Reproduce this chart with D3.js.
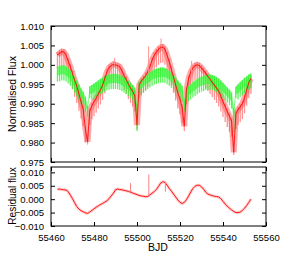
<!DOCTYPE html>
<html>
<head>
<meta charset="utf-8">
<script src="https://cdn.jsdelivr.net/npm/d3@7"></script>
<style>
  body { margin: 0; background: #fff; }
  text { font-family: "Liberation Sans", Arial, sans-serif; }
</style>
</head>
<body>
<div id="chart"></div>
<script>
// sampling times (BJD - 2400000)
var bjd = [
  55463, 55464, 55465, 55466, 55467, 55468, 55469, 55470, 55471, 55472,
  55473, 55474, 55475, 55476, 55477, 55478, 55479, 55480, 55481, 55482,
  55483, 55484, 55485, 55486, 55487, 55488, 55489, 55490, 55491, 55492,
  55493, 55494, 55495, 55496, 55497, 55498, 55499, 55500, 55501, 55502,
  55503, 55504, 55505, 55506, 55507, 55508, 55509, 55510, 55511, 55512,
  55513, 55514, 55515, 55516, 55517, 55518, 55519, 55520, 55521, 55522,
  55523, 55524, 55525, 55526, 55527, 55528, 55529, 55530, 55531, 55532,
  55533, 55534, 55535, 55536, 55537, 55538, 55539, 55540, 55541, 55542,
  55543, 55544, 55545, 55546, 55547, 55548, 55549, 55550, 55551, 55552,
  55553
];

// observed flux (red): central trace and low edge of the scatter
var fluxMid = [
  1.0025, 1.0030, 1.0034, 1.0033, 1.0025, 1.0010, 0.9995, 0.9978, 0.9960, 0.9945,
  0.9925, 0.9905, 0.9885, 0.9835, 0.9802, 0.9880, 0.9895, 0.9905, 0.9914, 0.9925,
  0.9935, 0.9948, 0.9965, 0.9982, 0.9993, 0.9998, 1.0001, 1.0000, 0.9998, 0.9995,
  0.9985, 0.9972, 0.9962, 0.9950, 0.9940, 0.9932, 0.9920, 0.9845, 0.9948, 0.9958,
  0.9965, 0.9972, 0.9982, 0.9995, 1.0012, 1.0025, 1.0033, 1.0040, 1.0045, 1.0046,
  1.0040, 1.0025, 1.0008, 0.9988, 0.9968, 0.9948, 0.9928, 0.9912, 0.9890, 0.9842,
  0.9935, 0.9965, 0.9982, 0.9992, 0.9998, 1.0000, 0.9998, 0.9992, 0.9985, 0.9978,
  0.9970, 0.9963, 0.9955, 0.9948, 0.9940, 0.9932, 0.9920, 0.9905, 0.9893, 0.9880,
  0.9868, 0.9855, 0.9775, 0.9875, 0.9885, 0.9892, 0.9900, 0.9915, 0.9935, 0.9955,
  0.9965
];
var fluxLo = [
  0.9990, 0.9994, 0.9998, 0.9997, 0.9988, 0.9972, 0.9955, 0.9937, 0.9918, 0.9902,
  0.9882, 0.9862, 0.9842, 0.9800, 0.9795, 0.9845, 0.9860, 0.9868, 0.9877, 0.9888,
  0.9898, 0.9910, 0.9927, 0.9944, 0.9956, 0.9962, 0.9965, 0.9964, 0.9962, 0.9958,
  0.9948, 0.9935, 0.9925, 0.9912, 0.9902, 0.9893, 0.9880, 0.9835, 0.9915, 0.9922,
  0.9928, 0.9935, 0.9944, 0.9956, 0.9972, 0.9985, 0.9993, 1.0000, 1.0005, 1.0006,
  1.0000, 0.9985, 0.9968, 0.9948, 0.9928, 0.9908, 0.9888, 0.9872, 0.9850, 0.9830,
  0.9898, 0.9928, 0.9945, 0.9955, 0.9960, 0.9962, 0.9960, 0.9954, 0.9947, 0.9940,
  0.9932, 0.9925, 0.9917, 0.9910, 0.9902, 0.9893, 0.9880, 0.9866, 0.9853, 0.9840,
  0.9828, 0.9815, 0.9768, 0.9835, 0.9845, 0.9852, 0.9860, 0.9875, 0.9895, 0.9915,
  0.9925
];

// model flux (green): upper envelope and tips of the oscillation
var modelTop = [
  0.9995, 0.9997, 0.9999, 0.9999, 0.9996, 0.9991, 0.9985, 0.9977, 0.9969, 0.9960,
  0.9950, 0.9940, 0.9931, 0.9918, 0.9895, 0.9944, 0.9948, 0.9952, 0.9956, 0.9960,
  0.9964, 0.9967, 0.9970, 0.9973, 0.9975, 0.9976, 0.9977, 0.9977, 0.9976, 0.9974,
  0.9971, 0.9968, 0.9964, 0.9959, 0.9954, 0.9948, 0.9942, 0.9900, 0.9957, 0.9962,
  0.9967, 0.9972, 0.9977, 0.9981, 0.9985, 0.9988, 0.9990, 0.9992, 0.9993, 0.9993,
  0.9992, 0.9989, 0.9985, 0.9980, 0.9974, 0.9967, 0.9960, 0.9953, 0.9946, 0.9910,
  0.9940, 0.9945, 0.9950, 0.9955, 0.9959, 0.9963, 0.9967, 0.9970, 0.9972, 0.9974,
  0.9975, 0.9975, 0.9974, 0.9972, 0.9969, 0.9965, 0.9960, 0.9954, 0.9948, 0.9942,
  0.9936, 0.9929, 0.9890, 0.9944, 0.9950, 0.9956, 0.9961, 0.9966, 0.9971, 0.9975,
  0.9978
];
var modelLow = [
  0.9957, 0.9958, 0.9960, 0.9960, 0.9957, 0.9952, 0.9946, 0.9938, 0.9929, 0.9920,
  0.9910, 0.9900, 0.9890, 0.9878, 0.9866, 0.9915, 0.9910, 0.9913, 0.9917, 0.9921,
  0.9925, 0.9928, 0.9931, 0.9934, 0.9936, 0.9937, 0.9938, 0.9938, 0.9937, 0.9935,
  0.9932, 0.9929, 0.9925, 0.9920, 0.9915, 0.9909, 0.9900, 0.9830, 0.9925, 0.9923,
  0.9928, 0.9933, 0.9938, 0.9942, 0.9946, 0.9949, 0.9951, 0.9953, 0.9954, 0.9954,
  0.9953, 0.9950, 0.9946, 0.9941, 0.9935, 0.9928, 0.9921, 0.9914, 0.9905, 0.9880,
  0.9910, 0.9906, 0.9911, 0.9916, 0.9920, 0.9924, 0.9928, 0.9931, 0.9933, 0.9935,
  0.9936, 0.9936, 0.9935, 0.9933, 0.9930, 0.9926, 0.9921, 0.9915, 0.9909, 0.9903,
  0.9896, 0.9888, 0.9826, 0.9915, 0.9911, 0.9917, 0.9922, 0.9927, 0.9932, 0.9936,
  0.9939
];

// residuals (observed - model)
var resid = [
  0.0037, 0.0038, 0.0036, 0.0035, 0.0034, 0.0028, 0.0015, 0.0002, -0.0013, -0.0028,
  -0.0037, -0.0043, -0.0047, -0.0051, -0.0053, -0.0048, -0.0042, -0.0036, -0.0030, -0.0025,
  -0.0020, -0.0016, -0.0011, -0.0006, 0.0002, 0.0012, 0.0022, 0.0035, 0.0038, 0.0036,
  0.0035, 0.0033, 0.0031, 0.0029, 0.0026, 0.0023, 0.0020, 0.0017, 0.0014, 0.0012,
  0.0011, 0.0009, 0.0010, 0.0016, 0.0022, 0.0028, 0.0036, 0.0048, 0.0060, 0.0065,
  0.0063, 0.0052, 0.0040, 0.0030, 0.0019, 0.0008, -0.0003, -0.0012, -0.0016, -0.0012,
  -0.0002, 0.0012, 0.0027, 0.0040, 0.0048, 0.0052, 0.0052, 0.0046, 0.0037, 0.0026,
  0.0019, 0.0016, 0.0013, 0.0011, 0.0010, 0.0008, 0.0002, -0.0008, -0.0018, -0.0026,
  -0.0034, -0.0040, -0.0046, -0.0050, -0.0050, -0.0048, -0.0042, -0.0034, -0.0024, -0.0012,
  0.0000
];

// isolated outliers
var fluxSpikeDay = [55489.6, 55505.4, 55511.2, 55525.4];
var fluxSpikeVal = [1.0018, 1.0047, 1.0068, 1.0010];
var residSpikeDay = [55497.0, 55505.5, 55513.2];
var residSpikeVal = [0.0060, 0.0092, 0.0028];

var xTicks = [55460, 55480, 55500, 55520, 55540, 55560];
var fluxTicks = [0.975, 0.980, 0.985, 0.990, 0.995, 1.000, 1.005, 1.010];
var residTicks = [-0.010, -0.005, 0.000, 0.005, 0.010];

var W = 305, H = 261;
var svg = d3.select("#chart").append("svg")
    .attr("width", W).attr("height", H)
    .style("display", "block");

var x = d3.scaleLinear().domain([55460, 55560]).range([51, 266]);
var yTop = d3.scaleLinear().domain([0.975, 1.010]).range([162, 26]);
var yRes = d3.scaleLinear().domain([-0.010, 0.012]).range([226, 167]);

var pts = bjd.map(function(d, i) { return i; });

function nearest(day) {
    return Math.max(0, Math.min(bjd.length - 1, Math.round(day - bjd[0])));
}

svg.append("clipPath").attr("id", "clipTop").append("rect")
    .attr("x", 51).attr("y", 26).attr("width", 215).attr("height", 136);
svg.append("clipPath").attr("id", "clipRes").append("rect")
    .attr("x", 51).attr("y", 167).attr("width", 215).attr("height", 59);

// ---- flux panel
var fluxPanel = svg.append("g").attr("clip-path", "url(#clipTop)");

var midLine = d3.line().x(function(i) { return x(bjd[i]); }).y(function(i) { return yTop(fluxMid[i]); });

// pale scatter of the observations
fluxPanel.append("path").datum(pts).attr("d", midLine)
    .style("fill", "none").style("stroke", "#ff9090").style("stroke-width", 6).style("opacity", 0.75);

fluxPanel.append("g").selectAll("line").data(pts).enter().append("line")
    .attr("x1", function(i) { return x(bjd[i]); })
    .attr("x2", function(i) { return x(bjd[i]); })
    .attr("y1", function(i) { return yTop(fluxLo[i]); })
    .attr("y2", function(i) { return yTop(fluxMid[i]) - 3; })
    .style("stroke", "#ff4a4a").style("stroke-width", 1.3).style("opacity", 0.6);

// model band
fluxPanel.append("path")
    .datum(pts)
    .attr("d", d3.area()
        .x(function(i) { return x(bjd[i]); })
        .y0(function(i) { return yTop(modelTop[i]) + (yTop(modelLow[i]) - yTop(modelTop[i])) * 0.6; })
        .y1(function(i) { return yTop(modelTop[i]); }))
    .style("fill", "#55ff55").style("opacity", 0.8);

fluxPanel.append("g").selectAll("line").data(pts).enter().append("line")
    .attr("x1", function(i) { return x(bjd[i]); })
    .attr("x2", function(i) { return x(bjd[i]); })
    .attr("y1", function(i) { return yTop(modelLow[i]); })
    .attr("y2", function(i) { return yTop(modelTop[i]); })
    .style("stroke", "#33f033").style("stroke-width", 1.3).style("opacity", 0.8);

// observed trace
fluxPanel.append("path").datum(pts).attr("d", midLine)
    .style("fill", "none").style("stroke", "#ff0000").style("stroke-width", 1.1).style("opacity", 0.8);

fluxPanel.append("g").selectAll("line").data(fluxSpikeDay).enter().append("line")
    .attr("x1", function(d) { return x(d); })
    .attr("x2", function(d) { return x(d); })
    .attr("y1", function(d) { return yTop(fluxMid[nearest(d)]); })
    .attr("y2", function(d, i) { return yTop(fluxSpikeVal[i]); })
    .style("stroke", "#ff9090").style("stroke-width", 1);

// ---- residual panel
var resPanel = svg.append("g").attr("clip-path", "url(#clipRes)");

var resLine = d3.line().x(function(i) { return x(bjd[i]); }).y(function(i) { return yRes(resid[i]); });

resPanel.append("path").datum(pts).attr("d", resLine)
    .style("fill", "none").style("stroke", "#ffaaaa").style("stroke-width", 3).style("opacity", 0.6);
resPanel.append("path").datum(pts).attr("d", resLine)
    .style("fill", "none").style("stroke", "#ff0000").style("stroke-width", 0.9);

resPanel.append("g").selectAll("line").data(residSpikeDay).enter().append("line")
    .attr("x1", function(d) { return x(d); })
    .attr("x2", function(d) { return x(d); })
    .attr("y1", function(d) { return yRes(resid[nearest(d)]); })
    .attr("y2", function(d, i) { return yRes(residSpikeVal[i]); })
    .style("stroke", "#ff8080").style("stroke-width", 1);

// ---- axes, gnuplot style (inward ticks mirrored on all sides)
function styleAxis(g) {
    g.select(".domain").remove();
    g.selectAll(".tick line").style("stroke", "#000");
    g.selectAll("text").style("font-size", "9.5px").style("fill", "#000");
}

svg.append("g").attr("transform", "translate(0,162)")
    .call(d3.axisBottom(x).tickValues(xTicks).tickSize(-4).tickFormat("")).call(styleAxis);
svg.append("g").attr("transform", "translate(0,26)")
    .call(d3.axisTop(x).tickValues(xTicks).tickSize(-4).tickFormat("")).call(styleAxis);
svg.append("g").attr("transform", "translate(51,0)")
    .call(d3.axisLeft(yTop).tickValues(fluxTicks).tickSize(-4).tickPadding(7).tickFormat(d3.format(".3f"))).call(styleAxis);
svg.append("g").attr("transform", "translate(266,0)")
    .call(d3.axisRight(yTop).tickValues(fluxTicks).tickSize(-4).tickFormat("")).call(styleAxis);

svg.append("g").attr("transform", "translate(0,226)")
    .call(d3.axisBottom(x).tickValues(xTicks).tickSize(-4).tickPadding(8).tickFormat(d3.format("d"))).call(styleAxis);
svg.append("g").attr("transform", "translate(0,167)")
    .call(d3.axisTop(x).tickValues(xTicks).tickSize(-4).tickFormat("")).call(styleAxis);
svg.append("g").attr("transform", "translate(51,0)")
    .call(d3.axisLeft(yRes).tickValues(residTicks).tickSize(-4).tickPadding(7).tickFormat(d3.format(".3f"))).call(styleAxis);
svg.append("g").attr("transform", "translate(266,0)")
    .call(d3.axisRight(yRes).tickValues(residTicks).tickSize(-4).tickFormat("")).call(styleAxis);

// frames
svg.append("rect").attr("x", 51).attr("y", 26).attr("width", 215).attr("height", 136)
    .style("fill", "none").style("stroke", "#000").style("stroke-width", 1);
svg.append("rect").attr("x", 51).attr("y", 167).attr("width", 215).attr("height", 59)
    .style("fill", "none").style("stroke", "#000").style("stroke-width", 1);

// titles
svg.append("text").attr("transform", "translate(16,94) rotate(-90)")
    .attr("text-anchor", "middle").style("font-size", "10.5px").text("Normalised Flux");
svg.append("text").attr("transform", "translate(16,196) rotate(-90)")
    .attr("text-anchor", "middle").style("font-size", "10px").text("Residual flux");
svg.append("text").attr("x", 158).attr("y", 251)
    .attr("text-anchor", "middle").style("font-size", "10.5px").text("BJD");
</script>
</body>
</html>
